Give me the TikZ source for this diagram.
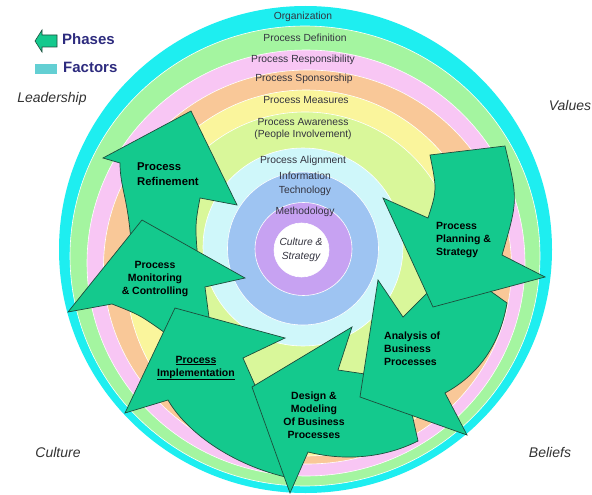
\documentclass[tikz,border=0pt]{standalone}
\usepackage{fontspec}
\setmainfont{Liberation Sans}
\definecolor{ringcyan}{HTML}{1EEEF0}
\definecolor{ringgreen}{HTML}{A4F5A0}
\definecolor{ringpink}{HTML}{F8C6F4}
\definecolor{ringpeach}{HTML}{F9C898}
\definecolor{ringyellow}{HTML}{FAF59C}
\definecolor{ringyg}{HTML}{D9F79A}
\definecolor{ringlcyan}{HTML}{CFF7FA}
\definecolor{ringblue}{HTML}{9EC4F2}
\definecolor{ringpurple}{HTML}{C7A2F2}
\definecolor{arrowgreen}{HTML}{14C98D}
\definecolor{arrowline}{HTML}{1D4D3C}
\definecolor{legendnavy}{HTML}{2D2B7E}
\definecolor{swatch}{HTML}{63CFD3}
\definecolor{ringtext}{HTML}{33333F}
\tikzset{
  ring/.style={draw=white, line width=0.6pt},
  arrowshape/.style={fill=arrowgreen, draw=arrowline, line width=0.7pt, line join=miter},
  ringlabel/.style={text=ringtext, font=\fontsize{10.3}{12.5}\selectfont, inner sep=0pt, align=center},
  phaselabel/.style={text=black, font=\fontsize{10.5}{13}\selectfont\bfseries, inner sep=0pt},
  cornerlabel/.style={text=black!80, font=\fontsize{14}{16}\selectfont\itshape, inner sep=0pt},
  legendlabel/.style={text=legendnavy, font=\fontsize{15}{17}\selectfont\bfseries, inner sep=0pt, anchor=west}
}
\begin{document}
\begin{tikzpicture}[x=1pt,y=-1pt]
\useasboundingbox (0,0) rectangle (592,495);
\fill[white] (0,0) rectangle (592,495);
% rings
\fill[ringcyan] (305.5,249.5) ellipse [x radius=246.5pt, y radius=243.5pt];
\path[ring, fill=ringgreen] (305,256) ellipse [x radius=235pt, y radius=230pt];
\path[ring, fill=ringpink] (306,263) ellipse [x radius=219pt, y radius=213pt];
\path[ring, fill=ringpeach] (307.5,267) ellipse [x radius=204pt, y radius=197pt];
\path[ring, fill=ringyellow] (306,273) ellipse [x radius=180pt, y radius=183pt];
\path[ring, fill=ringyg] (305,262) ellipse [x radius=152pt, y radius=150pt];
\path[ring, fill=ringlcyan] (303,247) ellipse [x radius=100pt, y radius=99pt];
\path[ring, fill=ringblue] (303,248.5) ellipse [x radius=75.5pt, y radius=76.5pt];
\path[ring, fill=ringpurple] (303.5,249) ellipse [x radius=48.5pt, y radius=46.5pt];
\path[ring, fill=white] (301.5,250) ellipse [x radius=27.5pt, y radius=27pt];
% ring labels
\node[ringlabel] (org) at (303,17) {Organization};
\node[ringlabel] (def) at (305,38) {Process Definition};
\node[ringlabel] (resp) at (303,60) {Process Responsibility};
\node[ringlabel] (spon) at (304,79) {Process Sponsorship};
\node[ringlabel] (meas) at (306,100) {Process Measures};
\node[ringlabel] (aware) at (303,129) {Process Awareness\\(People Involvement)};
\node[ringlabel] (align) at (303,161) {Process Alignment};
\node[ringlabel, font=\fontsize{10.3}{14}\selectfont] (it) at (305,184) {Information\\Technology};
\node[ringlabel] (meth) at (305,212) {Methodology};
\node[ringlabel, font=\fontsize{10.3}{14}\selectfont\itshape] (cs) at (301,250) {Culture \&\\Strategy};
% arrows (later phases first, so each head covers the next tail)
\path[arrowshape] (191,111) -- (237,205) -- (200,198) .. controls (195,225) .. (198,262)
  -- (132,262) .. controls (130,200) and (120,190) .. (120,163) -- (103,158) -- cycle;
\path[arrowshape] (142,220) -- (245,278) -- (205,287) -- (210,325) -- (168,335)
  .. controls (140,315) .. (112,304) -- (68,312) -- cycle;
\path[arrowshape] (175,308) -- (285,338) -- (243,358) .. controls (250,375) .. (258,392)
  -- (290,478) .. controls (230,465) and (185,430) .. (168,400) -- (125,413) -- cycle;
\path[arrowshape] (252,387) -- (352,327) -- (338,370) -- (365,374) -- (380,380) -- (410,405)
  -- (418,441) .. controls (380,460) and (340,460) .. (308,452) -- (290,493) -- cycle;
\path[arrowshape] (360,397) -- (378,280) -- (403,317) -- (440,280) -- (475,280) -- (507,303)
  .. controls (500,345) and (478,375) .. (445,393) -- (467,435) -- cycle;
\path[arrowshape] (430,155) .. controls (437,190) .. (428,218) -- (383,198) -- (433,307)
  -- (545,277) -- (502,255) .. controls (518,200) .. (505,146) -- cycle;
% phase labels
\node[phaselabel, align=left, anchor=west, font=\fontsize{11.3}{15}\selectfont\bfseries] (refine) at (137,174.5) {Process\\Refinement};
\node[phaselabel, align=center] (monitor) at (155,278.5) {Process\\Monitoring\\\& Controlling};
\node[phaselabel, align=center] (impl) at (196,368) {\underline{Process}\\\underline{Implementation}};
\node[phaselabel, align=center] (design) at (314,415) {Design \&\\Modeling\\Of Business\\Processes};
\node[phaselabel, align=left, anchor=west] (analysis) at (384,348.5) {Analysis of\\Business\\Processes};
\node[phaselabel, align=left, anchor=west] (plan) at (436,240) {Process\\Planning \&\\Strategy};
% legend
\path[arrowshape, line width=0.6pt] (35,41) -- (42,30) -- (42,35) -- (57,35) -- (57,47) -- (42,47) -- (42,52) -- cycle;
\fill[swatch] (35,64) rectangle (57,74);
\node[legendlabel] (phases) at (62,39) {Phases};
\node[legendlabel] (factors) at (63,67) {Factors};
% corner labels
\node[cornerlabel] (lead) at (52,99) {Leadership};
\node[cornerlabel] (values) at (570,105) {Values};
\node[cornerlabel] (culture) at (58,452) {Culture};
\node[cornerlabel] (beliefs) at (550,452) {Beliefs};
\end{tikzpicture}
\end{document}
